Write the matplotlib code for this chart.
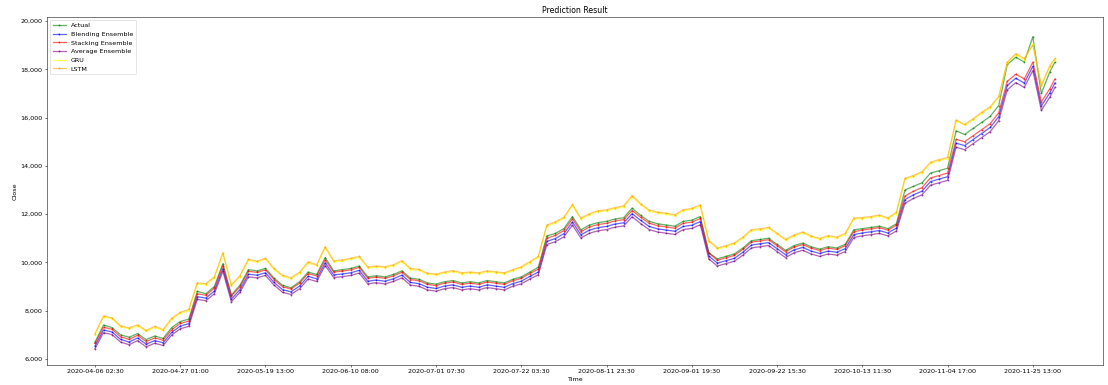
import matplotlib
matplotlib.use("Agg")
import matplotlib.pyplot as plt
from matplotlib.ticker import FuncFormatter

# sample positions (row index of the half-hourly series)
sample_idx = list(range(0, 11201, 100)) + [11259]

tick_labels = [
    "2020-04-06 02:30", "2020-04-27 01:00", "2020-05-19 13:00", "2020-06-10 08:00",
    "2020-07-01 07:30", "2020-07-22 03:30", "2020-08-11 23:30", "2020-09-01 19:30",
    "2020-09-22 15:30", "2020-10-13 11:30", "2020-11-04 17:00", "2020-11-25 13:00",
]

actual = [
    6700, 7400, 7300, 7000, 6900, 7050, 6800, 6950, 6850, 7300, 7550, 7650,
    8800, 8700, 9000, 9950, 8650, 9050, 9700, 9650, 9750, 9350, 9050, 8950, 9200, 9600,
    9500, 10200, 9650, 9700, 9750, 9850, 9400, 9450, 9400, 9500, 9650, 9350, 9300, 9150,
    9100, 9200, 9250, 9150, 9200, 9150, 9250, 9200, 9150, 9300, 9400, 9600, 9800,
    11100, 11200, 11400, 11900, 11350, 11550, 11650, 11700, 11800, 11850, 12250, 11950,
    11700, 11600, 11550, 11500, 11700, 11750, 11900,
    10400, 10150, 10250, 10350, 10600, 10900, 10950, 11000, 10750, 10500, 10700, 10800,
    10650, 10550, 10650, 10600, 10750, 11350, 11400, 11450, 11500, 11400, 11600,
    13000, 13150, 13300, 13700, 13800, 13900,
    15450, 15300, 15550, 15800, 16050, 16500,
    18200, 18500, 18300, 19350, 17000, 17900, 18300,
]

blending = [
    6530, 7200, 7120, 6810, 6700, 6870, 6610, 6760, 6670, 7100, 7360, 7460,
    8580, 8520, 8810, 9740, 8480, 8870, 9510, 9470, 9570, 9170, 8870, 8780, 9020, 9420,
    9320, 9980, 9480, 9520, 9570, 9670, 9220, 9270, 9220, 9320, 9470, 9170, 9120, 8970,
    8920, 9020, 9070, 8970, 9020, 8970, 9070, 9020, 8970, 9120, 9220, 9420, 9600,
    10870, 10990, 11190, 11670, 11140, 11340, 11440, 11490, 11590, 11640, 12020, 11740,
    11490, 11390, 11340, 11290, 11490, 11540, 11690,
    10260, 9970, 10070, 10170, 10420, 10720, 10770, 10820, 10570, 10320, 10520, 10620,
    10470, 10370, 10470, 10420, 10570, 11150, 11220, 11270, 11320, 11220, 11420,
    12600, 12800, 12950, 13350, 13450, 13550,
    14940, 14840, 15090, 15340, 15590, 16040,
    17330, 17630, 17430, 18130, 16480, 17030, 17430,
]

stacking = [
    6640, 7310, 7230, 6920, 6810, 6980, 6720, 6870, 6780, 7210, 7470, 7570,
    8700, 8640, 8930, 9860, 8600, 8990, 9630, 9590, 9690, 9290, 8990, 8900, 9140, 9540,
    9440, 10100, 9600, 9640, 9690, 9790, 9340, 9390, 9340, 9440, 9590, 9290, 9240, 9090,
    9040, 9140, 9190, 9090, 9140, 9090, 9190, 9140, 9090, 9240, 9340, 9540, 9720,
    11000, 11120, 11320, 11800, 11270, 11470, 11570, 11620, 11720, 11770, 12150, 11870,
    11620, 11520, 11470, 11420, 11620, 11670, 11820,
    10380, 10090, 10190, 10290, 10540, 10840, 10890, 10940, 10690, 10440, 10640, 10740,
    10590, 10490, 10590, 10540, 10690, 11270, 11340, 11390, 11440, 11340, 11540,
    12750, 12950, 13100, 13500, 13600, 13700,
    15100, 15000, 15250, 15500, 15750, 16200,
    17500, 17800, 17600, 18300, 16650, 17200, 17600,
]

average = [
    6420, 7090, 7010, 6700, 6590, 6760, 6500, 6650, 6560, 6990, 7250, 7350,
    8470, 8410, 8700, 9630, 8370, 8760, 9400, 9360, 9460, 9060, 8760, 8670, 8910, 9310,
    9210, 9870, 9370, 9410, 9460, 9560, 9110, 9160, 9110, 9210, 9360, 9060, 9010, 8860,
    8810, 8910, 8960, 8860, 8910, 8860, 8960, 8910, 8860, 9010, 9110, 9310, 9490,
    10740, 10860, 11060, 11540, 11010, 11210, 11310, 11360, 11460, 11510, 11890, 11610,
    11360, 11260, 11210, 11160, 11360, 11410, 11560,
    10140, 9850, 9950, 10050, 10300, 10600, 10650, 10700, 10450, 10200, 10400, 10500,
    10350, 10250, 10350, 10300, 10450, 11030, 11100, 11150, 11200, 11100, 11300,
    12450, 12650, 12800, 13200, 13300, 13400,
    14770, 14670, 14920, 15170, 15420, 15870,
    17150, 17450, 17250, 17950, 16300, 16850, 17250,
]

gru = [
    7010, 7730, 7670, 7320, 7250, 7360, 7140, 7300, 7180, 7640, 7890, 8000,
    9110, 9070, 9360, 10350, 9030, 9400, 10090, 10000, 10130, 9700, 9420, 9320, 9560, 9970,
    9860, 10600, 10030, 10050, 10130, 10200, 9770, 9800, 9780, 9850, 10030, 9700, 9670, 9500,
    9480, 9550, 9620, 9520, 9560, 9520, 9610, 9560, 9530, 9650, 9780, 9980, 10210,
    11510, 11630, 11830, 12350, 11790, 11970, 12100, 12130, 12230, 12290, 12720, 12390,
    12120, 12040, 11990, 11930, 12130, 12200, 12330,
    10850, 10560, 10640, 10770, 11000, 11320, 11340, 11410, 11160, 10910, 11090, 11220,
    11050, 10950, 11060, 11010, 11150, 11790, 11810, 11860, 11910, 11810, 12020,
    13440, 13550, 13720, 14100, 14220, 14300,
    15860, 15680, 15900, 16180, 16400, 16840,
    18250, 18600, 18400, 19050, 17300, 18100, 18400,
]

lstm = [
    7050, 7780, 7700, 7370, 7290, 7410, 7180, 7350, 7220, 7690, 7930, 8050,
    9150, 9120, 9400, 10400, 9070, 9450, 10130, 10050, 10170, 9750, 9460, 9370, 9600, 10020,
    9900, 10650, 10070, 10100, 10170, 10250, 9810, 9850, 9820, 9900, 10070, 9750, 9710, 9550,
    9520, 9600, 9660, 9570, 9600, 9570, 9650, 9610, 9570, 9700, 9820, 10030, 10250,
    11550, 11680, 11870, 12400, 11830, 12020, 12140, 12180, 12270, 12340, 12770, 12430,
    12170, 12080, 12040, 11970, 12180, 12240, 12380,
    10900, 10600, 10690, 10810, 11050, 11360, 11390, 11450, 11210, 10950, 11140, 11260,
    11100, 10990, 11110, 11050, 11200, 11830, 11860, 11900, 11960, 11850, 12070,
    13480, 13600, 13760, 14150, 14260, 14350,
    15900, 15720, 15950, 16220, 16450, 16880,
    18300, 18650, 18450, 19000, 17350, 18150, 18450,
]

series = [
    ("Actual", actual, "green"),
    ("Blending Ensemble", blending, "blue"),
    ("Stacking Ensemble", stacking, "red"),
    ("Average Ensemble", average, "purple"),
    ("GRU", gru, "yellow"),
    ("LSTM", lstm, "orange"),
]

fig = plt.figure(figsize=(24, 385 / (1108 / 24)), dpi=1108 / 24)
ax = fig.add_axes([0.0424, 0.052, 0.953, 0.904])

for name, vals, col in series:
    ax.plot(sample_idx, vals, color=col, marker=".", markersize=4,
            linewidth=2, alpha=0.6, label=name)

ax.set_xticks(range(0, 1000 * len(tick_labels), 1000))
ax.set_xticklabels(tick_labels)
ax.set_ylim(5750, 20170)
ax.yaxis.set_major_formatter(FuncFormatter(lambda v, _: f"{v:,.0f}"))

ax.set_title("Prediction Result")
ax.set_xlabel("Time")
ax.set_ylabel("Close")
ax.legend(loc="upper left")

fig.savefig("out.png", dpi=1108 / 24)
